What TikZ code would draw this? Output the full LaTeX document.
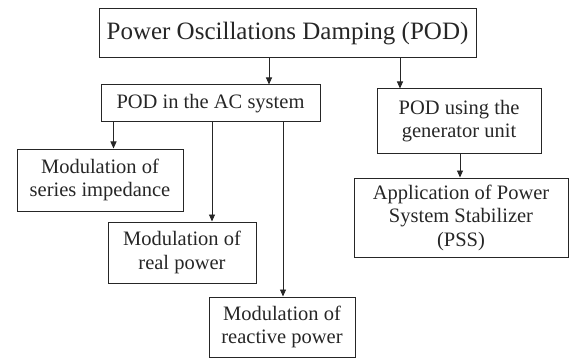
\documentclass[tikz,border=0pt]{standalone}
\usepackage{fontspec}
\setmainfont{Liberation Serif}
\usetikzlibrary{arrows.meta}
\begin{document}
\begin{tikzpicture}[x=1pt,y=-1pt,
  box/.style={draw=black!85,line width=1pt,inner sep=0pt,align=center,
    font=\fontsize{20.5}{23.5}\selectfont,text=black!85},
  arr/.style={draw=black!85,line width=0.9pt,-{Triangle[length=7pt,width=6pt]}}]
\useasboundingbox (0,0) rectangle (569,358);
\node[box,minimum width=377pt,minimum height=49pt,font=\fontsize{25}{28}\selectfont] (top) at (287.5,33.5) {Power Oscillations Damping (POD)};
\node[box,minimum width=219pt,minimum height=37pt] (ac) at (210.5,103.5) {POD in the AC system};
\node[box,minimum width=164pt,minimum height=64pt] (gen) at (459,121) {POD using the\\generator unit};
\node[box,minimum width=166pt,minimum height=62pt] (ser) at (100,180) {Modulation of\\series impedance};
\node[box,minimum width=148pt,minimum height=61pt] (real) at (182,252.5) {Modulation of\\real power};
\node[box,minimum width=146pt,minimum height=60pt] (reac) at (282,327) {Modulation of\\reactive power};
\node[box,minimum width=214pt,minimum height=79pt] (pss) at (461,217.5) {Application of Power\\System Stabilizer\\(PSS)};
\coordinate (xa) at (269,0);
\coordinate (xb) at (400,0);
\coordinate (xc) at (113.5,0);
\coordinate (xd) at (212,0);
\coordinate (xe) at (283,0);
\coordinate (xf) at (460,0);
\draw[arr] (top.south -| xa) -- (xa |- ac.north);
\draw[arr] (top.south -| xb) -- (xb |- gen.north);
\draw[arr] (ac.south -| xc) -- (xc |- ser.north);
\draw[arr] (ac.south -| xd) -- (xd |- real.north);
\draw[arr] (ac.south -| xe) -- (xe |- reac.north);
\draw[arr] (gen.south -| xf) -- (xf |- pss.north);
\end{tikzpicture}
\end{document}
